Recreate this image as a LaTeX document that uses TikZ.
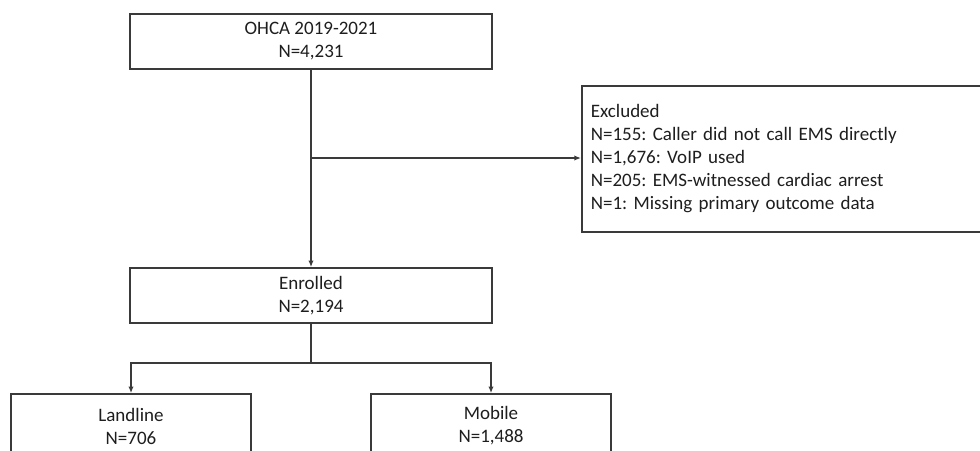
\documentclass[tikz,border=0pt]{standalone}
\usepackage{fontspec}
\setmainfont{Carlito}
\frenchspacing
\usetikzlibrary{arrows.meta}
\definecolor{linec}{HTML}{3A3A3A}
\definecolor{textc}{HTML}{1E1E1E}
\begin{document}
\begin{tikzpicture}[x=0.75pt,y=-0.75pt,
  box/.style={draw=linec,line width=1.2pt,fill=white,text=textc,align=center,inner sep=0pt,
    font=\fontsize{14.25}{17.25}\selectfont},
  arr/.style={draw=linec,line width=1.2pt,-{Latex[length=5pt,width=4pt]}},
  conn/.style={draw=linec,line width=1.2pt}]
\useasboundingbox (0,0) rectangle (980,450);
\clip (0,0) rectangle (980,450);
\fill[white] (0,0) rectangle (980,450);

\node[box,minimum width=271.5pt,minimum height=41.25pt] (top) at (311,41.5) {OHCA 2019-2021\\N=4,231};
\node[box,minimum width=271.5pt,minimum height=41.25pt] (enrolled) at (311,295.5) {Enrolled\\N=2,194};
\node[box,anchor=west,minimum width=322.5pt,minimum height=109.5pt,inner xsep=6.75pt,
  text width=309pt,align=left] (excl) at (581,159) {Excluded\\N=155: Caller did not call EMS directly\\N=1,676: VoIP used\\N=205: EMS-witnessed cardiac arrest\\N=1: Missing primary outcome data};
\node[box,minimum width=180pt,minimum height=48pt] (landline) at (131,426) {Landline\\N=706};
\node[box,minimum width=180pt,minimum height=48pt] (mobile) at (491,426) {Mobile\\N=1,488};

\coordinate (j) at (311,158);
\coordinate (b) at (311,363);
\draw[arr] (top.south) -- (enrolled.north);
\draw[arr] (j) -- (j -| excl.west);
\draw[conn] (enrolled.south) -- (b);
\draw[arr] (b) -| (landline.north);
\draw[arr] (b) -| (mobile.north);
\end{tikzpicture}
\end{document}
